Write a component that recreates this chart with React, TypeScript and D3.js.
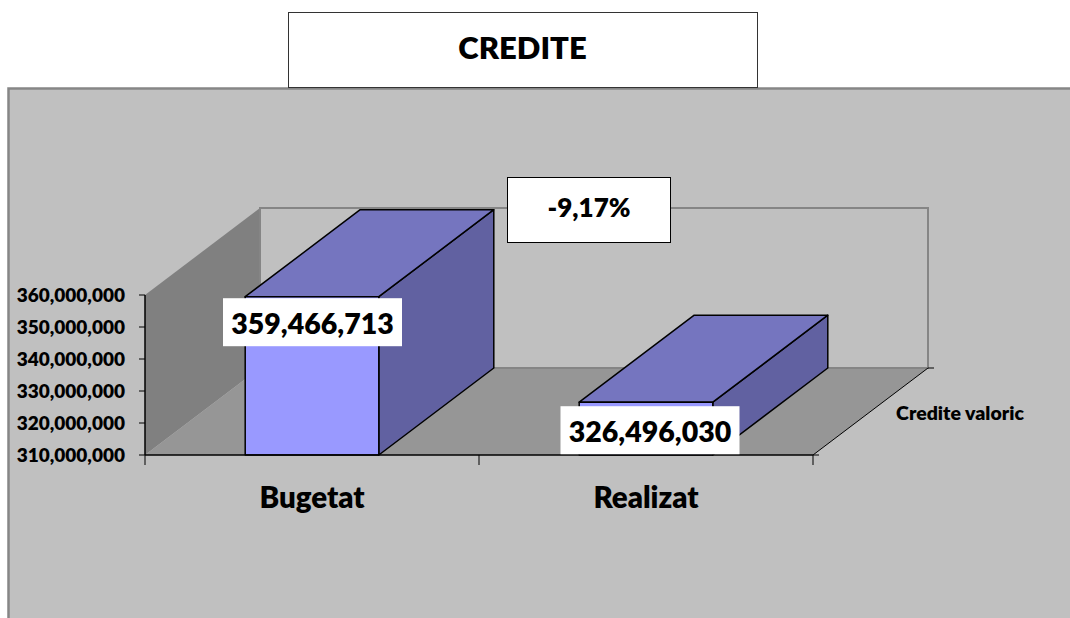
import * as d3 from "d3";

const categories = ["Bugetat", "Realizat"];
const values = [359466713, 326496030];
const valueLabels = ["359,466,713", "326,496,030"];
const yTicks = [310000000, 320000000, 330000000, 340000000, 350000000, 360000000];
const titleText = "CREDITE";
const changeText = "-9,17%";
const seriesName = "Credite valoric";

const width = 1070;
const height = 618;
const font = "Lato, Carlito, sans-serif";

// depth of the fake 3d box
const depthX = 115;
const depthY = -87;

const y = d3.scaleLinear().domain([310000000, 360000000]).range([455, 295]);
const x = d3
  .scaleBand<string>()
  .domain(categories)
  .range([145, 813])
  .paddingInner(0.6)
  .paddingOuter(0.3);

const fmt = d3.format(",");

function poly(points: [number, number][]) {
  const p = d3.path();
  points.forEach(([a, b], i) => (i === 0 ? p.moveTo(a, b) : p.lineTo(a, b)));
  p.closePath();
  return p.toString();
}

export default function App() {
  const [x0, x1] = x.range();
  const y0 = y.range()[0];
  const yTop = y.range()[1];
  const step = x.step();

  return (
    <svg
      width={width}
      height={height}
      style={{ position: "absolute", left: 0, top: 0, display: "block", background: "#fff" }}
      fontFamily={font}
      fontWeight={800}
    >
      {/* chart area */}
      <rect x={8.5} y={88.5} width={width} height={height} fill="#c0c0c0" stroke="#868686" strokeWidth={2.5} />

      {/* title box */}
      <rect x={288.5} y={12.5} width={469} height={75} fill="#fff" stroke="#333" strokeWidth={1} />
      <text x={522.5} y={59} textAnchor="middle" fontSize={31} fill="#000">
        {titleText}
      </text>

      {/* walls */}
      <path
        d={poly([
          [x0, y0],
          [x0 + depthX, y0 + depthY],
          [x0 + depthX, yTop + depthY],
          [x0, yTop],
        ])}
        fill="#808080"
      />
      <path
        d={poly([
          [x0, y0],
          [x1, y0],
          [x1 + depthX, y0 + depthY],
          [x0 + depthX, y0 + depthY],
        ])}
        fill="#969696"
      />
      <path
        d={poly([
          [x0 + depthX, y0 + depthY],
          [x0 + depthX, yTop + depthY],
          [x1 + depthX, yTop + depthY],
          [x1 + depthX, y0 + depthY],
        ])}
        fill="none"
        stroke="#858585"
        strokeWidth={2}
      />

      {/* bars */}
      {categories.map((c, i) => {
        const left = x(c)!;
        const right = left + x.bandwidth();
        const top = y(values[i]);
        return (
          <g key={c} stroke="#000" strokeWidth={1.5} strokeLinejoin="round">
            <path
              d={poly([
                [right, y0],
                [right + depthX, y0 + depthY],
                [right + depthX, top + depthY],
                [right, top],
              ])}
              fill="#6161a1"
            />
            <path
              d={poly([
                [left, top],
                [right, top],
                [right + depthX, top + depthY],
                [left + depthX, top + depthY],
              ])}
              fill="#7575bf"
            />
            <rect x={left} y={top} width={right - left} height={y0 - top} fill="#9999ff" />
          </g>
        );
      })}

      {/* axes */}
      <g stroke="#000" fill="none">
        <line x1={x0} x2={x0} y1={yTop} y2={y0} strokeWidth={1.5} />
        <line x1={x0} x2={x1} y1={y0} y2={y0} strokeWidth={1.5} />
        <line x1={x1} x2={x1 + depthX} y1={y0} y2={y0 + depthY} strokeWidth={1} />
        <line x1={x1 + depthX} x2={x1 + depthX + 6} y1={y0 + depthY} y2={y0 + depthY} strokeWidth={1} />
        <line x1={x1} x2={x1 + 6} y1={y0} y2={y0} strokeWidth={1} />
        {yTicks.map((t) => (
          <line key={t} x1={x0 - 6} x2={x0} y1={y(t)} y2={y(t)} strokeWidth={1} />
        ))}
        {[0, 1, 2].map((i) => (
          <line key={i} x1={x0 + i * step} x2={x0 + i * step} y1={y0} y2={y0 + 10} strokeWidth={1} />
        ))}
      </g>

      {/* y tick labels */}
      {yTicks.map((t) => (
        <text key={t} x={125} y={y(t) + 7} textAnchor="end" fontSize={19} fill="#000">
          {fmt(t)}
        </text>
      ))}

      {/* category labels */}
      {categories.map((c) => (
        <text key={c} x={x(c)! + x.bandwidth() / 2} y={508} textAnchor="middle" fontSize={29.5} fill="#000">
          {c}
        </text>
      ))}

      {/* depth axis label */}
      <text x={960} y={420} textAnchor="middle" fontSize={19.5} fill="#000">
        {seriesName}
      </text>

      {/* value labels */}
      {categories.map((c, i) => {
        const cx = x(c)! + x.bandwidth() / 2 + [0.5, 4][i];
        const top = y(values[i]) + [1.5, 4][i];
        return (
          <g key={c}>
            <rect x={cx - 89.5} y={top} width={179} height={48} fill="#fff" />
            <text x={cx} y={top + 36} textAnchor="middle" fontSize={28.5} fill="#000">
              {valueLabels[i]}
            </text>
          </g>
        );
      })}

      {/* change box */}
      <rect x={507.5} y={177.5} width={163} height={65} fill="#fff" stroke="#000" strokeWidth={1} />
      <text x={589} y={217} textAnchor="middle" fontSize={26} fill="#000">
        {changeText}
      </text>
    </svg>
  );
}
